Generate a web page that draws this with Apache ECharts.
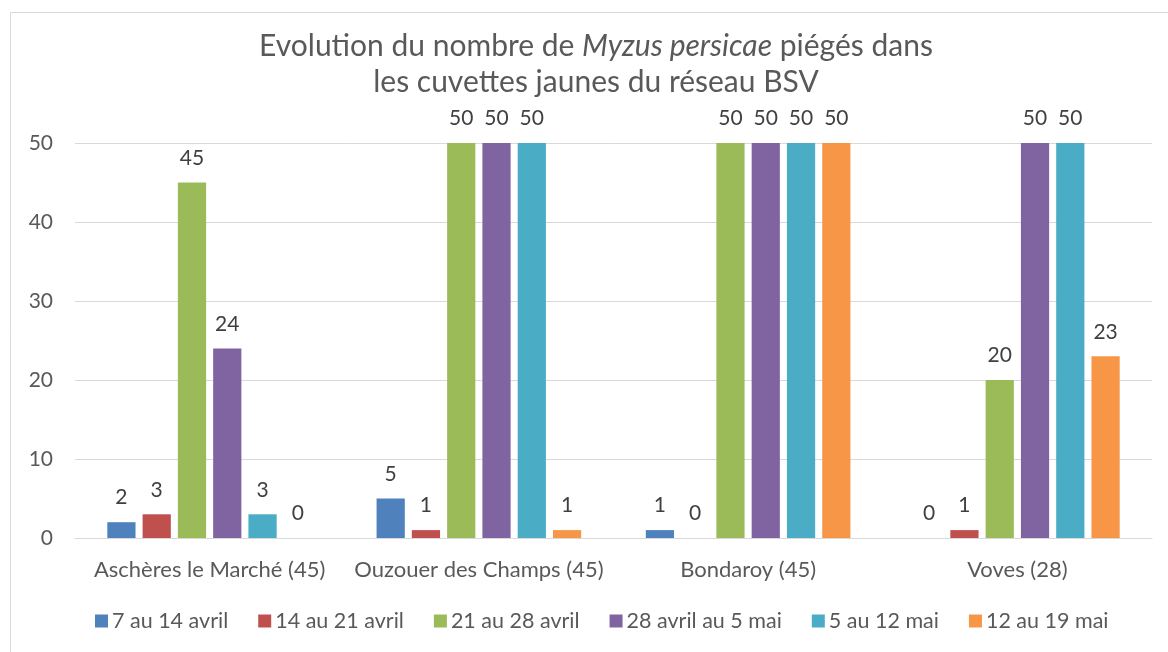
<!DOCTYPE html>
<html>
<head>
<meta charset="utf-8">
<script src="https://cdn.jsdelivr.net/npm/echarts@6/dist/echarts.min.js"></script>
<style>
html,body{margin:0;padding:0;background:#fff;}
#c{width:1168px;height:652px;}
</style>
</head>
<body>
<div id="c"></div>
<script>
const categories = ['Aschères le Marché (45)', 'Ouzouer des Champs (45)', 'Bondaroy (45)', 'Voves (28)'];
const seriesNames = ['7 au 14 avril', '14 au 21 avril', '21 au 28 avril', '28 avril au 5 mai', '5 au 12 mai', '12 au 19 mai'];
const s1 = [2, 5, 1, 0];
const s2 = [3, 1, 0, 1];
const s3 = [45, 50, 50, 20];
const s4 = [24, 50, 50, 50];
const s5 = [3, 50, 50, 50];
const s6 = [0, 1, 50, 23];
const yTicks = [0, 10, 20, 30, 40, 50];
const colors = ['#4F81BD', '#C0504D', '#9BBB59', '#8064A2', '#4BACC6', '#F79646'];

const FONT = 'Lato';
const values = [s1, s2, s3, s4, s5, s6];

const chart = echarts.init(document.getElementById('c'), null, {renderer: 'canvas'});
chart.setOption({
  animation: false,
  color: colors,
  graphic: [{
    type: 'rect',
    shape: {x: 10.5, y: 12.5, width: 1200, height: 700},
    style: {fill: 'none', stroke: '#d9d9d9', lineWidth: 1},
    silent: true, z: -10
  }],
  title: {
    left: 591,
    textAlign: 'center',
    top: 23,
    text: '{a|Evolution du nombre de }{i|Myzus persicae}{a| piégés dans}\n{a|les cuvettes jaunes du réseau BSV}',
    textStyle: {
      fontWeight: 'normal',
      rich: {
        a: {fontFamily: FONT, fontSize: 30, fontWeight: 'normal', color: '#595959', lineHeight: 36},
        i: {fontFamily: FONT, fontSize: 30, fontWeight: 'normal', color: '#595959', fontStyle: 'italic', lineHeight: 36}
      }
    }
  },
  legend: {
    left: 90,
    top: 605,
    itemWidth: 13,
    itemHeight: 13,
    itemGap: 30,
    icon: 'rect',
    textStyle: {fontFamily: FONT, fontSize: 21.5, color: '#595959', padding: [0, 0, 0, -1]},
    data: seriesNames
  },
  grid: {left: 75, right: 16, top: 143, bottom: 114, containLabel: false},
  xAxis: {
    type: 'category',
    data: categories,
    axisLine: {show: true, lineStyle: {color: '#d9d9d9', width: 1}},
    axisTick: {show: false},
    axisLabel: {fontFamily: FONT, fontSize: 22, color: '#595959', margin: 21, interval: 0}
  },
  yAxis: {
    type: 'value',
    min: yTicks[0],
    max: yTicks[yTicks.length - 1],
    interval: 10,
    axisLine: {show: false},
    axisTick: {show: false},
    splitLine: {lineStyle: {color: '#d9d9d9', width: 1}},
    axisLabel: {fontFamily: FONT, fontSize: 21, color: '#595959', margin: 22}
  },
  series: seriesNames.map((name, i) => ({
    name: name,
    type: 'bar',
    data: values[i],
    barGap: '25%',
    barCategoryGap: '24%',
    label: {
      show: true,
      position: 'top',
      distance: 14,
      fontFamily: FONT,
      fontSize: 21,
      color: '#404040'
    }
  }))
});
</script>
</body>
</html>
